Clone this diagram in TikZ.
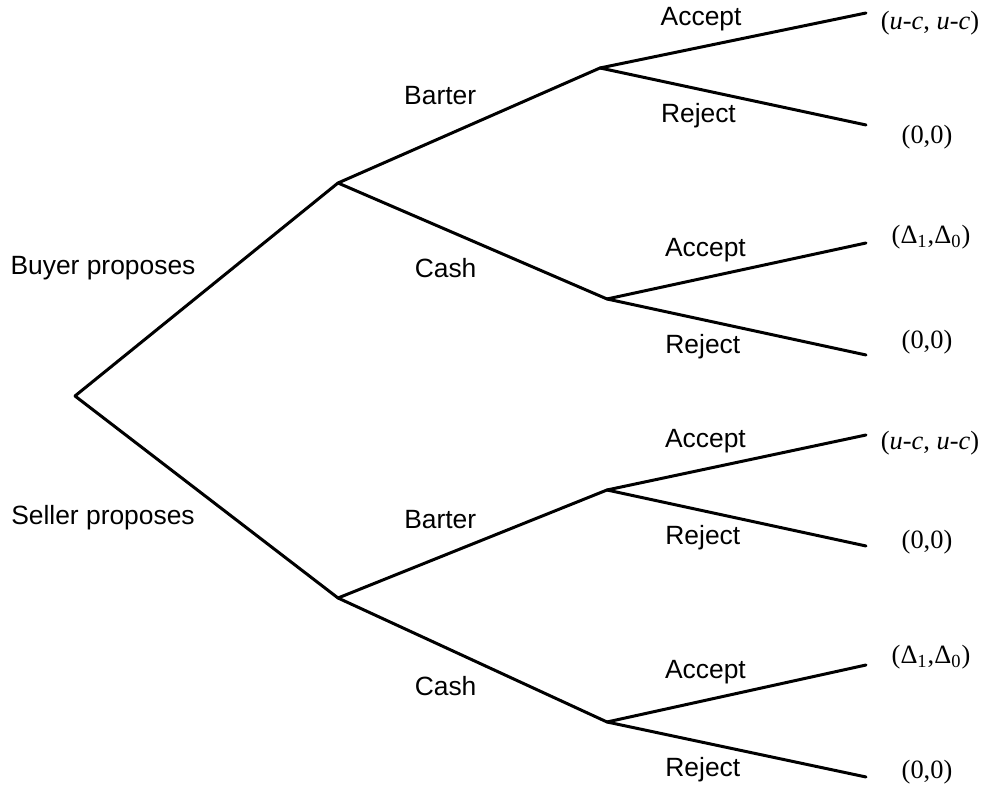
\documentclass[tikz,border=0pt]{standalone}
\usepackage{fontspec}
\setmainfont{Liberation Serif}
\setsansfont{Liberation Sans}
\usetikzlibrary{positioning}

\begin{document}
\begin{tikzpicture}[-,line width=1.5pt,line cap=round,on grid,
    choice/.style={coordinate},
    accept lbl/.style={pos=0.38,yshift=14pt},
    reject lbl/.style={pos=0.37,yshift=-13.5pt},
    payoff/.style={font=\rmfamily\fontsize{13.2}{15}\selectfont,inner sep=0pt},
    mover/.style={font=\sffamily\fontsize{13.2}{15}\selectfont,inner sep=0pt}]
    \useasboundingbox (0,0) rectangle (494pt,395pt);
    \node[choice] (root) at (37.5pt,197pt) {};
    \node[choice] (buyer) [above right=106.5pt and 131.5pt of root] {};
    \node[choice] (seller) [below right=101pt and 131.5pt of root] {};
    \node[choice] (buyer_barter) [above right=57.5pt and 131pt of buyer] {};
    \node[choice] (buyer_cash) [below right=58pt and 134.5pt of buyer] {};
    \node[choice] (seller_barter) [above right=54pt and 134.5pt of seller] {};
    \node[choice] (seller_cash) [below right=62pt and 134.5pt of seller] {};
    \node[choice] (bb_acc) [above right=27.5pt and 133pt of buyer_barter] {};
    \node[choice] (bb_rej) [below right=28.5pt and 133pt of buyer_barter] {};
    \node[choice] (bc_acc) [above right=28pt and 129.5pt of buyer_cash] {};
    \node[choice] (bc_rej) [below right=28pt and 129.5pt of buyer_cash] {};
    \node[choice] (sb_acc) [above right=27.5pt and 129.5pt of seller_barter] {};
    \node[choice] (sb_rej) [below right=28pt and 129.5pt of seller_barter] {};
    \node[choice] (sc_acc) [above right=28.5pt and 129.5pt of seller_cash] {};
    \node[choice] (sc_rej) [below right=27.5pt and 129.5pt of seller_cash] {};
    \node[mover] (buyer_lbl) [above right=64pt and 14pt of root,anchor=center] {Buyer proposes};
    \node[mover] (seller_lbl) [below right=61pt and 14pt of root,anchor=center] {Seller proposes};
    \node[payoff] (pay_bb_acc) [below right=5pt and 32pt of bb_acc,anchor=center] {(\textit{u}-\textit{c}, \textit{u}-\textit{c})};
    \node[payoff] (pay_bb_rej) [below right=6pt and 30.5pt of bb_rej,anchor=center] {(0,0)};
    \node[payoff] (pay_bc_acc) [above right=3pt and 32.5pt of bc_acc,anchor=center] {(Δ\textsubscript{1},Δ\textsubscript{0})};
    \node[payoff] (pay_bc_rej) [above right=6.5pt and 30.5pt of bc_rej,anchor=center] {(0,0)};
    \node[payoff] (pay_sb_acc) [below right=4pt and 32pt of sb_acc,anchor=center] {(\textit{u}-\textit{c}, \textit{u}-\textit{c})};
    \node[payoff] (pay_sb_rej) [above right=2pt and 30.5pt of sb_rej,anchor=center] {(0,0)};
    \node[payoff] (pay_sc_acc) [above right=4pt and 32.5pt of sc_acc,anchor=center] {(Δ\textsubscript{1},Δ\textsubscript{0})};
    \node[payoff] (pay_sc_rej) [above right=2.5pt and 30.5pt of sc_rej,anchor=center] {(0,0)};
    \path[every node/.style={mover}]
    (root) edge (buyer)
    (root) edge (seller)
    (buyer) edge node[pos=0.39, yshift=21.5pt] {Barter} (buyer_barter)
    (buyer) edge node[pos=0.4, yshift=-19.5pt] {Cash} (buyer_cash)
    (seller) edge node[pos=0.38, yshift=18.5pt] {Barter} (seller_barter)
    (seller) edge node[pos=0.4, yshift=-19pt] {Cash} (seller_cash)
    (buyer_barter) edge node[accept lbl] {Accept} (bb_acc)
    (buyer_barter) edge node[reject lbl] {Reject} (bb_rej)
    (buyer_cash) edge node[accept lbl] {Accept} (bc_acc)
    (buyer_cash) edge node[reject lbl] {Reject} (bc_rej)
    (seller_barter) edge node[accept lbl] {Accept} (sb_acc)
    (seller_barter) edge node[reject lbl] {Reject} (sb_rej)
    (seller_cash) edge node[accept lbl] {Accept} (sc_acc)
    (seller_cash) edge node[reject lbl] {Reject} (sc_rej)
    ;
\end{tikzpicture}
\end{document}
